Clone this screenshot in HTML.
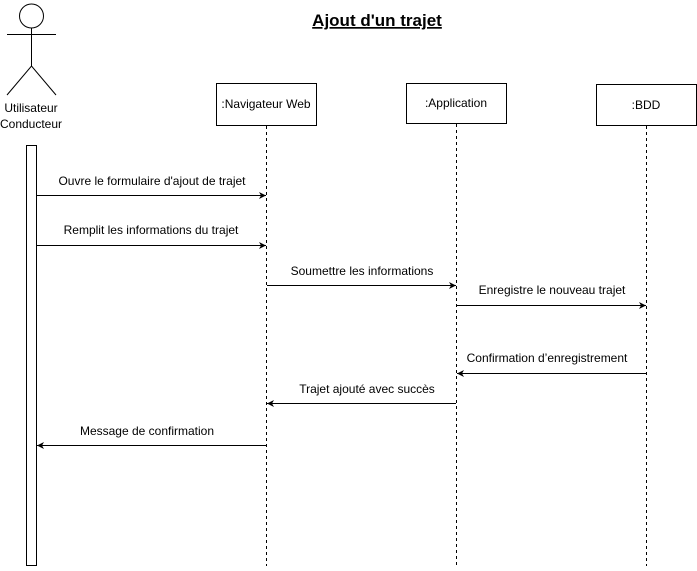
<!DOCTYPE html>
<html><head><meta charset="utf-8"><style>body{margin:0;background:#fff}</style></head><body>
<svg width="697" height="566" xmlns="http://www.w3.org/2000/svg" font-family="Liberation Sans, Arial, sans-serif">
<defs><marker id="a" markerWidth="8" markerHeight="8" refX="7" refY="4" orient="auto" markerUnits="userSpaceOnUse"><path d="M0,0.5 L7,4 L0,7.5 L2,4 Z" fill="#000"/></marker></defs>
<text x="377" y="26" font-size="17" font-weight="bold" text-anchor="middle" text-decoration="underline">Ajout d'un trajet</text>
<g stroke="#000" fill="none" stroke-width="1">
<circle cx="31.5" cy="16" r="12" fill="#fff"/>
<line x1="7" y1="34.5" x2="56" y2="34.5"/>
<line x1="31.5" y1="28" x2="31.5" y2="66"/>
<path d="M7,95 L31.5,66 L56,95"/>
<rect x="26.5" y="145.5" width="10" height="420" fill="#fff"/>
<rect x="216.5" y="83.5" width="100" height="42"/>
<rect x="406.5" y="83.5" width="100" height="40"/>
<rect x="596.5" y="84.5" width="100" height="41"/>
<g stroke-dasharray="3,3"><line x1="266.5" y1="126" x2="266.5" y2="566"/><line x1="456.5" y1="124" x2="456.5" y2="566"/><line x1="646.5" y1="126" x2="646.5" y2="566"/></g>
<g marker-end="url(#a)">
<line x1="37" y1="195.5" x2="266" y2="195.5"/>
<line x1="37" y1="245.5" x2="266" y2="245.5"/>
<line x1="267" y1="285.5" x2="456" y2="285.5"/>
<line x1="457" y1="305.5" x2="646" y2="305.5"/>
<line x1="646" y1="373.5" x2="457" y2="373.5"/>
<line x1="456" y1="403.5" x2="267" y2="403.5"/>
<line x1="266" y1="445.5" x2="37" y2="445.5"/>
</g></g>
<g font-size="12" text-anchor="middle" fill="#000">
<text x="31" y="112">Utilisateur</text><text x="31" y="128">Conducteur</text>
<text x="266" y="108">:Navigateur Web</text>
<text x="456" y="107">:Application</text>
<text x="646" y="109">:BDD</text>
<text x="152" y="185">Ouvre le formulaire d'ajout de trajet</text>
<text x="151" y="234">Remplit les informations du trajet</text>
<text x="362" y="275">Soumettre les informations</text>
<text x="552" y="294">Enregistre le nouveau trajet</text>
<text x="547" y="362">Confirmation d’enregistrement</text>
<text x="367" y="393">Trajet ajouté avec succès</text>
<text x="147" y="435">Message de confirmation</text>
</g>
</svg>
</body></html>
